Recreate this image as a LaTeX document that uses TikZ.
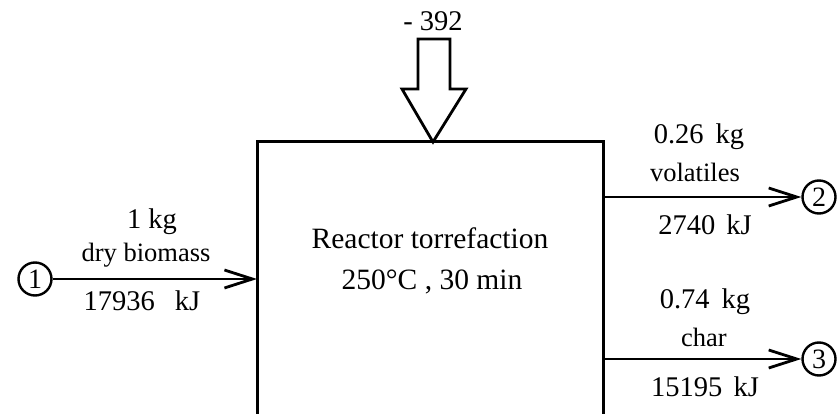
\documentclass[tikz,border=0pt]{standalone}
\usepackage{fontspec}
\setmainfont{Liberation Serif}
\usetikzlibrary{arrows.meta}
\begin{document}
\begin{tikzpicture}[x=1pt,y=-1pt,
  big/.style={font=\fontsize{28.5}{30}\selectfont, inner sep=0pt},
  boxtext/.style={font=\fontsize{29.5}{31}\selectfont, inner sep=0pt},
  small/.style={font=\fontsize{26.5}{28}\selectfont, inner sep=0pt},
  stream/.style={line width=2.8pt, -{Straight Barb[length=28pt,width=18pt,line width=2.8pt]}},
  port/.style={circle, draw, line width=2.4pt, minimum size=33pt, inner sep=0pt, font=\fontsize{28}{30}\selectfont}]
\useasboundingbox (0,0) rectangle (838,414);
% reactor box
\coordinate (bl) at (257,420);
\coordinate (tr) at (603,142);
\draw[line width=3pt] (bl) rectangle (tr);
\node[boxtext] (r1) at (430,238) {Reactor torrefaction};
\node[boxtext] (r2) at (432,282) {250°C , 30 min};
% heat arrow
\node[big] (heat) at (433,21) {- 392};
\draw[line width=2.8pt, line join=miter] (418,39) -- (450,39) -- (450,89) -- (466,89) -- (433,142) -- (402,89) -- (418,89) -- cycle;
% input
\node[port] (p1) at (35,279) {1};
\coordinate (in) at (257,279);
\draw[stream] (p1) -- (in);
\node[big] (m1) at (152,222) {1 kg};
\node[small] (n1) at (146,255) {dry biomass};
\node[big] (e1) at (142,301) {17936\hspace{20pt}kJ};
% output volatiles
\coordinate (o2) at (603,197);
\node[port] (p2) at (819,197) {2};
\draw[stream] (o2) -- (p2);
\node[big] (m2) at (699,137) {0.26\hspace{5pt} kg};
\node[small] (n2) at (695,172) {volatiles};
\node[big] (e2) at (705,225) {2740\hspace{4pt} kJ};
% output char
\coordinate (o3) at (603,359);
\node[port] (p3) at (819,359) {3};
\draw[stream] (o3) -- (p3);
\node[big] (m3) at (705,302) {0.74\hspace{5pt} kg};
\node[small] (n3) at (704,337) {char};
\node[big] (e3) at (705,387) {15195\hspace{4pt} kJ};
\end{tikzpicture}
\end{document}
